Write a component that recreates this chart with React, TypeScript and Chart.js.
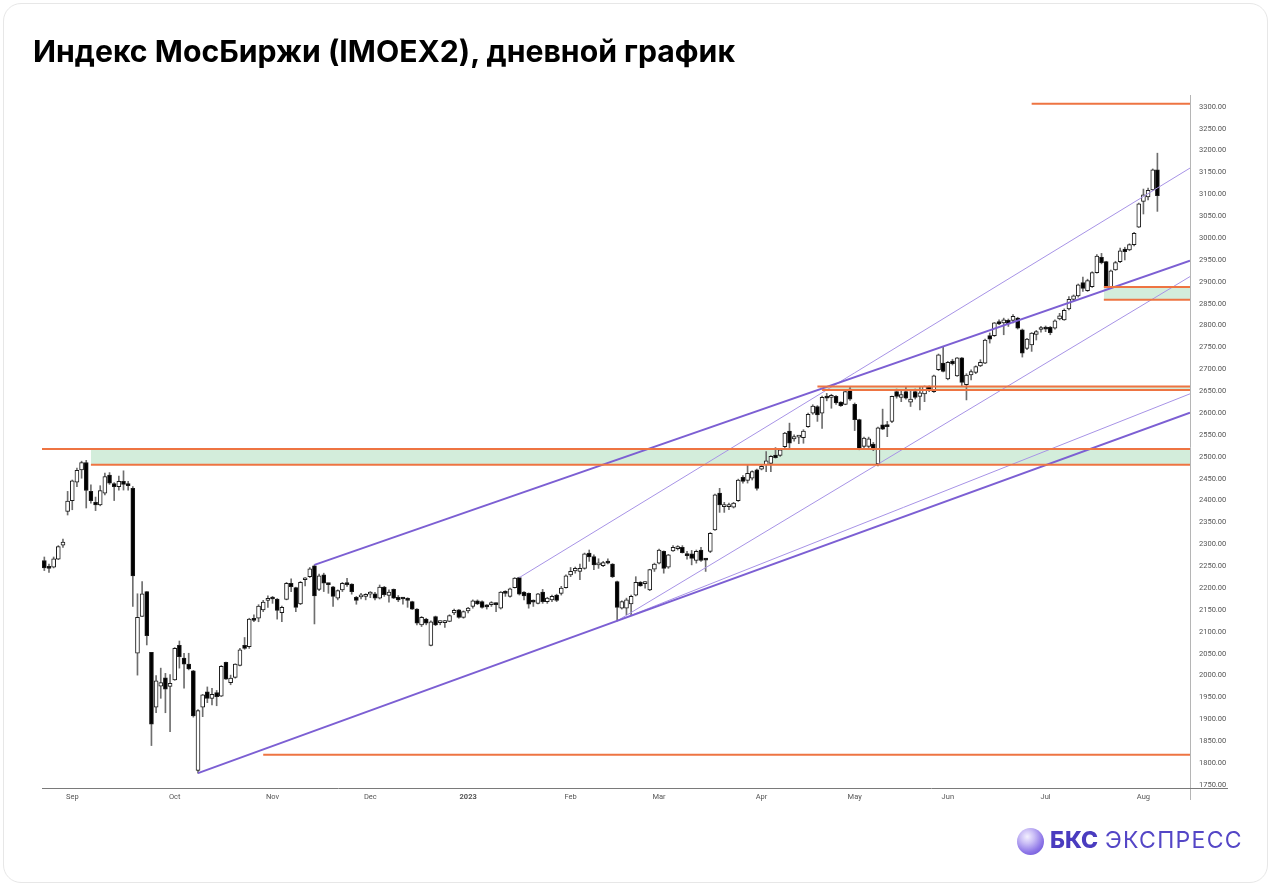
import React, { useEffect, useRef } from "react";
import { Chart, registerables } from "chart.js";

Chart.register(...registerables);

// ---- Daily candles, IMOEX2 (index = trading day, 0 = 24 Aug 2022) ----
const candleOpen = [
  2263, 2249, 2248, 2266, 2298, 2375, 2400, 2442, 2470, 2487,
  2421, 2396, 2390, 2417, 2458, 2439, 2432, 2444, 2436, 2428,
  2051, 2135, 2192, 2053, 1928, 1976, 1995, 1975, 1990, 2069,
  2040, 2026, 2011, 1783, 1928, 1963, 1948, 1961, 1953, 2030,
  1984, 1996, 2023, 2069, 2066, 2130, 2131, 2150, 2172, 2177,
  2175, 2144, 2174, 2211, 2201, 2164, 2219, 2226, 2251, 2197,
  2230, 2209, 2203, 2177, 2196, 2212, 2209, 2179, 2180, 2181,
  2186, 2187, 2177, 2202, 2183, 2197, 2179, 2177, 2175, 2169,
  2152, 2116, 2129, 2069, 2135, 2121, 2121, 2124, 2143, 2150,
  2133, 2148, 2158, 2171, 2169, 2158, 2162, 2165, 2154, 2192,
  2181, 2201, 2224, 2191, 2188, 2169, 2165, 2191, 2169, 2173,
  2184, 2188, 2201, 2230, 2239, 2238, 2245, 2280, 2272, 2253,
  2251, 2261, 2255, 2215, 2154, 2154, 2164, 2184, 2213, 2210,
  2196, 2243, 2257, 2284, 2248, 2285, 2290, 2293, 2276, 2278,
  2263, 2287, 2265, 2284, 2333, 2417, 2386, 2386, 2385, 2400,
  2453, 2446, 2451, 2470, 2472, 2482, 2485, 2504, 2503, 2523,
  2559, 2541, 2545, 2544, 2569, 2600, 2615, 2600, 2639, 2636,
  2638, 2625, 2620, 2655, 2620, 2585, 2524, 2524, 2529, 2484,
  2573, 2571, 2581, 2649, 2636, 2649, 2625, 2649, 2638, 2644,
  2661, 2649, 2699, 2714, 2678, 2719, 2685, 2726, 2665, 2687,
  2693, 2708, 2714, 2777, 2777, 2809, 2806, 2812, 2812, 2817,
  2790, 2748, 2756, 2780, 2791, 2796, 2796, 2794, 2815, 2813,
  2838, 2860, 2868, 2898, 2880, 2889, 2921, 2956, 2946, 2888,
  2927, 2946, 2975, 2973, 2985, 3025, 3084, 3094, 3110, 3156,
];
const candleHigh = [
  2271, 2255, 2271, 2297, 2312, 2421, 2447, 2474, 2490, 2492,
  2436, 2408, 2434, 2463, 2464, 2441, 2456, 2468, 2444, 2432,
  2187, 2215, 2192, 2053, 2000, 2017, 2005, 2002, 2064, 2079,
  2051, 2051, 2012, 1922, 1957, 1974, 1971, 1966, 2023, 2031,
  2001, 2027, 2062, 2087, 2131, 2139, 2162, 2172, 2182, 2181,
  2176, 2159, 2213, 2221, 2202, 2215, 2224, 2247, 2253, 2232,
  2234, 2211, 2204, 2196, 2213, 2222, 2210, 2181, 2188, 2187,
  2192, 2190, 2207, 2204, 2196, 2198, 2183, 2179, 2178, 2170,
  2153, 2135, 2131, 2125, 2136, 2125, 2126, 2139, 2152, 2151,
  2148, 2156, 2173, 2173, 2171, 2162, 2169, 2166, 2192, 2194,
  2200, 2224, 2225, 2192, 2189, 2173, 2188, 2197, 2179, 2184,
  2186, 2204, 2230, 2247, 2248, 2255, 2280, 2287, 2276, 2267,
  2261, 2267, 2256, 2216, 2171, 2177, 2184, 2226, 2215, 2215,
  2243, 2257, 2289, 2285, 2277, 2297, 2297, 2297, 2284, 2286,
  2287, 2293, 2268, 2327, 2415, 2428, 2396, 2394, 2396, 2449,
  2457, 2482, 2468, 2472, 2482, 2512, 2503, 2521, 2518, 2556,
  2577, 2550, 2549, 2562, 2600, 2619, 2617, 2639, 2645, 2643,
  2640, 2626, 2651, 2661, 2623, 2586, 2545, 2545, 2533, 2568,
  2609, 2581, 2639, 2655, 2653, 2659, 2653, 2655, 2661, 2662,
  2662, 2687, 2735, 2751, 2718, 2723, 2727, 2727, 2690, 2699,
  2708, 2722, 2769, 2783, 2807, 2813, 2817, 2815, 2825, 2819,
  2792, 2771, 2784, 2789, 2798, 2799, 2798, 2813, 2828, 2838,
  2866, 2870, 2895, 2911, 2906, 2923, 2962, 2965, 2947, 2927,
  2947, 2977, 2979, 2987, 3013, 3080, 3112, 3114, 3158, 3194,
];
const candleLow = [
  2240, 2236, 2246, 2265, 2293, 2367, 2379, 2432, 2451, 2383,
  2394, 2377, 2388, 2413, 2437, 2400, 2424, 2424, 2424, 2158,
  2001, 2135, 2070, 1840, 1915, 1948, 1915, 1872, 1989, 2017,
  1971, 2013, 1905, 1777, 1906, 1938, 1933, 1931, 1952, 1991,
  1979, 1994, 2022, 2060, 2062, 2123, 2123, 2146, 2156, 2165,
  2129, 2123, 2173, 2192, 2146, 2162, 2205, 2224, 2118, 2194,
  2192, 2188, 2158, 2173, 2192, 2204, 2186, 2163, 2175, 2173,
  2178, 2173, 2175, 2181, 2168, 2176, 2169, 2163, 2156, 2151,
  2116, 2112, 2116, 2068, 2114, 2116, 2110, 2123, 2139, 2131,
  2131, 2143, 2154, 2162, 2154, 2152, 2158, 2146, 2152, 2181,
  2179, 2200, 2184, 2173, 2154, 2158, 2164, 2165, 2165, 2169,
  2169, 2184, 2200, 2226, 2234, 2219, 2243, 2261, 2242, 2245,
  2249, 2255, 2224, 2125, 2152, 2139, 2139, 2182, 2204, 2200,
  2194, 2238, 2255, 2234, 2245, 2284, 2287, 2280, 2266, 2253,
  2257, 2261, 2238, 2281, 2332, 2373, 2373, 2379, 2383, 2398,
  2440, 2440, 2447, 2424, 2470, 2466, 2466, 2497, 2501, 2521,
  2518, 2536, 2530, 2531, 2567, 2597, 2581, 2565, 2628, 2611,
  2620, 2615, 2619, 2629, 2560, 2516, 2520, 2520, 2514, 2479,
  2562, 2546, 2578, 2634, 2626, 2632, 2615, 2632, 2607, 2626,
  2649, 2647, 2697, 2694, 2676, 2710, 2684, 2662, 2630, 2676,
  2690, 2706, 2713, 2760, 2775, 2802, 2779, 2798, 2806, 2792,
  2728, 2745, 2741, 2767, 2785, 2786, 2779, 2792, 2813, 2812,
  2836, 2857, 2865, 2878, 2878, 2887, 2920, 2941, 2887, 2885,
  2926, 2944, 2950, 2971, 2982, 3024, 3055, 3087, 3109, 3061,
];
const candleClose = [
  2246, 2245, 2267, 2295, 2305, 2399, 2445, 2469, 2487, 2423,
  2400, 2390, 2423, 2455, 2440, 2432, 2444, 2437, 2434, 2228,
  2133, 2187, 2091, 1889, 1988, 1984, 1969, 1982, 2062, 2043,
  2026, 2015, 1908, 1920, 1956, 1948, 1957, 1952, 2021, 1992,
  1994, 2026, 2059, 2062, 2129, 2126, 2159, 2168, 2174, 2175,
  2149, 2156, 2211, 2203, 2156, 2213, 2221, 2244, 2182, 2228,
  2211, 2208, 2181, 2194, 2211, 2208, 2192, 2172, 2180, 2185,
  2187, 2177, 2202, 2185, 2191, 2177, 2173, 2175, 2172, 2152,
  2120, 2133, 2120, 2123, 2116, 2122, 2122, 2137, 2149, 2133,
  2146, 2154, 2171, 2164, 2156, 2157, 2165, 2162, 2191, 2188,
  2198, 2223, 2186, 2182, 2163, 2168, 2187, 2169, 2177, 2181,
  2172, 2200, 2228, 2238, 2245, 2245, 2278, 2271, 2253, 2257,
  2258, 2257, 2226, 2156, 2169, 2173, 2181, 2213, 2205, 2211,
  2242, 2255, 2287, 2245, 2276, 2293, 2295, 2281, 2274, 2268,
  2284, 2263, 2264, 2325, 2413, 2390, 2386, 2387, 2394, 2447,
  2444, 2462, 2466, 2428, 2478, 2491, 2501, 2498, 2516, 2554,
  2531, 2546, 2545, 2559, 2597, 2616, 2596, 2636, 2634, 2638,
  2623, 2617, 2649, 2632, 2585, 2518, 2543, 2541, 2518, 2566,
  2563, 2569, 2638, 2638, 2642, 2634, 2632, 2636, 2646, 2661,
  2653, 2685, 2733, 2695, 2716, 2713, 2726, 2670, 2687, 2695,
  2706, 2716, 2767, 2769, 2806, 2804, 2813, 2804, 2821, 2794,
  2737, 2769, 2783, 2786, 2793, 2792, 2784, 2811, 2822, 2835,
  2860, 2868, 2893, 2885, 2903, 2921, 2959, 2944, 2888, 2925,
  2944, 2971, 2969, 2985, 3011, 3078, 3099, 3109, 3156, 3097,
];

// ---- Axis ----
const monthTickIndex = [6, 28, 49, 70, 91, 113, 132, 154, 174, 194, 215, 236];
const monthTickLabels = ["Sep", "Oct", "Nov", "Dec", "2023", "Feb", "Mar", "Apr", "May", "Jun", "Jul", "Aug"];
const priceTicks = [
  1750, 1800, 1850, 1900, 1950, 2000, 2050, 2100, 2150, 2200, 2250, 2300, 2350, 2400, 2450, 2500,
  2550, 2600, 2650, 2700, 2750, 2800, 2850, 2900, 2950, 3000, 3050, 3100, 3150, 3200, 3250, 3300,
];
const xRange = [-0.5, 246];
const yRange = [1743, 3327];

// ---- Drawings: trend lines [x1, y1, x2, y2] ----
const thickTrendLines = [
  [58, 2253, 246, 2948],
  [33, 1777, 246, 2601],
];
const thinTrendLines = [
  [102, 2224, 246, 3160],
  [123, 2125, 246, 2912],
  [123, 2125, 246, 2644],
];
// horizontal levels [startIndex, value]
const levelLines = [
  [-0.5, 2518],
  [10, 2482],
  [166, 2661],
  [167, 2653],
  [227.5, 2888],
  [227.5, 2859],
  [212, 3307],
  [47, 1819],
];
// green zones [startIndex, low, high]
const zoneBands = [
  [10, 2482, 2518],
  [166.5, 2653, 2661],
  [227.5, 2859, 2888],
];

const ORANGE = "#ee7442";
const GREEN = "rgba(200, 233, 210, 0.8)";
const PURPLE = "#7c5fd3";
const PURPLE_LIGHT = "#a793e6";

const axisLinesPlugin = {
  id: "axisLines",
  afterDraw(chart: any) {
    const { ctx, chartArea } = chart;
    const { left, right, top, bottom } = chartArea;
    ctx.save();
    ctx.lineWidth = 1;
    ctx.strokeStyle = "#b5b5b5";
    ctx.beginPath();
    ctx.moveTo(Math.round(right) + 0.5, top);
    ctx.lineTo(Math.round(right) + 0.5, bottom + 12);
    ctx.stroke();
    ctx.strokeStyle = "#7a7a7a";
    ctx.beginPath();
    ctx.moveTo(left, Math.round(bottom) + 0.5);
    ctx.lineTo(right + 38, Math.round(bottom) + 0.5);
    ctx.stroke();
    ctx.restore();
  },
};

function CandleChart() {
  const ref = useRef<HTMLCanvasElement | null>(null);
  useEffect(() => {
    if (!ref.current) return;
    const wickData = candleLow.map((l, i) => ({ x: i, y: [l, candleHigh[i]] }));
    const bodyData = candleOpen.map((o, i) => ({
      x: i,
      y: [Math.min(o, candleClose[i]), Math.max(o, candleClose[i])],
    }));
    const bodyFill = candleOpen.map((o, i) => (candleClose[i] < o ? "#000000" : "#ffffff"));

    const datasets: any[] = [];
    zoneBands.forEach(([x0, lo, hi]) => {
      datasets.push({
        type: "line",
        data: [
          { x: x0, y: lo },
          { x: xRange[1], y: lo },
        ],
        borderWidth: 0,
        borderColor: "rgba(0,0,0,0)",
        backgroundColor: GREEN,
        fill: { value: hi },
        pointRadius: 0,
        order: 100,
      });
    });
    datasets.push({
      type: "bar",
      data: wickData,
      backgroundColor: "#6e6e6e",
      barThickness: 1,
      grouped: false,
      minBarLength: 1,
      order: 50,
    });
    datasets.push({
      type: "bar",
      data: bodyData,
      backgroundColor: bodyFill,
      borderColor: "#1a1a1a",
      borderWidth: 1,
      borderSkipped: false,
      barThickness: 4,
      grouped: false,
      minBarLength: 2,
      order: 40,
    });
    thinTrendLines.forEach(([x1, y1, x2, y2]) => {
      datasets.push({
        type: "line",
        data: [
          { x: x1, y: y1 },
          { x: x2, y: y2 },
        ],
        borderColor: PURPLE_LIGHT,
        borderWidth: 1,
        pointRadius: 0,
        fill: false,
        order: 12,
      });
    });
    thickTrendLines.forEach(([x1, y1, x2, y2]) => {
      datasets.push({
        type: "line",
        data: [
          { x: x1, y: y1 },
          { x: x2, y: y2 },
        ],
        borderColor: PURPLE,
        borderWidth: 2,
        pointRadius: 0,
        fill: false,
        order: 10,
      });
    });
    levelLines.forEach(([x0, v]) => {
      datasets.push({
        type: "line",
        data: [
          { x: x0, y: v },
          { x: xRange[1], y: v },
        ],
        borderColor: ORANGE,
        borderWidth: 2,
        pointRadius: 0,
        fill: false,
        order: 5,
      });
    });

    const chart = new Chart(ref.current, {
      type: "bar",
      data: { datasets },
      plugins: [axisLinesPlugin],
      options: {
        responsive: false,
        animation: false,
        events: [],
        layout: { padding: { left: 42, top: 95, right: 43, bottom: 80 } },
        plugins: { legend: { display: false }, tooltip: { enabled: false }, title: { display: false } },
        scales: {
          x: {
            type: "linear",
            min: xRange[0],
            max: xRange[1],
            offset: false,
            grid: { display: false, drawTicks: false },
            border: { display: false },
            afterBuildTicks: (scale: any) => {
              scale.ticks = monthTickIndex.map((v) => ({ value: v }));
            },
            afterFit: (scale: any) => {
              scale.height = 20;
            },
            ticks: {
              autoSkip: false,
              maxRotation: 0,
              padding: 5,
              color: "#555555",
              font: (c: any) => ({
                family: "Roboto",
                size: 7.5,
                weight: c.index === 4 ? "bold" : "normal",
              }),
              callback: (_v: any, i: number) => monthTickLabels[i],
            },
          },
          y: {
            type: "linear",
            position: "right",
            min: yRange[0],
            max: yRange[1],
            grid: { display: false, drawTicks: false },
            border: { display: false },
            afterBuildTicks: (scale: any) => {
              scale.ticks = priceTicks.map((v) => ({ value: v }));
            },
            afterFit: (scale: any) => {
              scale.width = 40;
            },
            ticks: {
              autoSkip: false,
              padding: 9,
              color: "#555555",
              font: { family: "Roboto", size: 7.5 },
              callback: (v: any) => Number(v).toFixed(2),
            },
          },
        },
      },
    });
    return () => chart.destroy();
  }, []);
  return (
    <canvas
      ref={ref}
      width={1273}
      height={888}
      style={{ position: "absolute", left: 0, top: 0, width: 1273, height: 888 }}
    />
  );
}

export default function App() {
  useEffect(() => {
    document.body.style.margin = "0";
  }, []);
  return (
    <div
      style={{
        position: "relative",
        width: 1273,
        height: 888,
        background: "#ffffff",
        overflow: "hidden",
        fontFamily: "Inter, 'Noto Sans', sans-serif",
      }}
    >
      <div
        style={{
          position: "absolute",
          left: 3,
          top: 3,
          width: 1265,
          height: 880,
          border: "1px solid #e7e7e7",
          borderRadius: 18,
          boxSizing: "border-box",
        }}
      />
      <CandleChart />
      <div
        style={{
          position: "absolute",
          left: 33,
          top: 36,
          fontSize: 30.2,
          fontWeight: 700,
          lineHeight: 1,
          color: "#000000",
          whiteSpace: "nowrap",
        }}
      >
        Индекс МосБиржи (IMOEX2), дневной график
      </div>
      <div
        style={{
          position: "absolute",
          left: 1017,
          top: 828,
          width: 27,
          height: 27,
          borderRadius: "50%",
          background:
            "radial-gradient(circle at 38% 32%, #f3f0ff 0%, #cbbff6 28%, #8f78e8 62%, #5b43cf 100%)",
        }}
      />
      <div
        style={{
          position: "absolute",
          left: 1050,
          top: 829,
          fontSize: 23,
          lineHeight: 1,
          whiteSpace: "nowrap",
          color: "#5446c6",
        }}
      >
        <span style={{ fontWeight: 800, color: "#4a3cbf", letterSpacing: 0 }}>БКС</span>
        <span style={{ fontWeight: 400, letterSpacing: 1.3, marginLeft: 7 }}>ЭКСПРЕСС</span>
      </div>
    </div>
  );
}
